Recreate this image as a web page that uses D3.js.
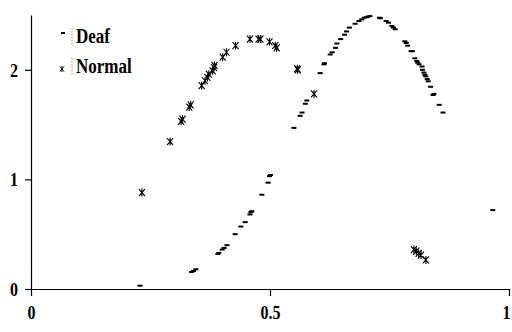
<!doctype html>
<html>
<head>
<script src="https://cdn.jsdelivr.net/npm/d3@7/dist/d3.min.js"></script>
<style>
  body { margin: 0; background: #fff; }
  svg { display: block; }
  text { font-family: "Liberation Serif", "Times New Roman", serif; font-weight: bold; }
</style>
</head>
<body>
<svg width="512" height="332"></svg>
<script>
// Deaf series [x, y]
var deafX = [0.228, 0.336, 0.340, 0.345, 0.391, 0.393, 0.400, 0.404, 0.410, 0.427, 0.439, 0.448, 0.458, 0.460, 0.462,
  0.483, 0.496, 0.499, 0.501, 0.550, 0.563, 0.567, 0.574, 0.577, 0.605, 0.613, 0.614, 0.626, 0.630, 0.637,
  0.640, 0.648, 0.656, 0.660, 0.666, 0.678, 0.686, 0.692, 0.697, 0.702, 0.705, 0.709, 0.729, 0.731, 0.743,
  0.748, 0.755, 0.758, 0.762, 0.782, 0.785, 0.788, 0.795, 0.798, 0.803, 0.807, 0.809, 0.812, 0.818, 0.819,
  0.822, 0.824, 0.826, 0.829, 0.831, 0.836, 0.841, 0.843, 0.854, 0.862, 0.966];
var deafY = [0.03, 0.155, 0.165, 0.18, 0.32, 0.33, 0.36, 0.375, 0.40, 0.50, 0.57, 0.61, 0.68, 0.70, 0.71,
  0.86, 0.97, 1.03, 1.04, 1.47, 1.58, 1.61, 1.69, 1.72, 1.97, 2.05, 2.06, 2.14, 2.16, 2.20,
  2.24, 2.28, 2.32, 2.35, 2.385, 2.42, 2.445, 2.46, 2.475, 2.48, 2.485, 2.49, 2.475, 2.47, 2.445,
  2.43, 2.40, 2.385, 2.37, 2.26, 2.245, 2.22, 2.17, 2.17, 2.105, 2.08, 2.065, 2.05, 2.03, 2.00,
  1.975, 1.955, 1.94, 1.915, 1.895, 1.845, 1.77, 1.78, 1.68, 1.61, 0.72];

// Normal series [x, y]
var normX = [0.232, 0.291, 0.314, 0.317, 0.331, 0.334, 0.357, 0.364, 0.369, 0.372, 0.380, 0.383, 0.384, 0.401, 0.409,
  0.428, 0.458, 0.476, 0.480, 0.499, 0.511, 0.514, 0.557, 0.558, 0.592, 0.801, 0.806, 0.811, 0.816, 0.826];
var normY = [0.88, 1.345, 1.53, 1.55, 1.66, 1.68, 1.855, 1.90, 1.93, 1.96, 1.99, 2.02, 2.04, 2.115, 2.16,
  2.22, 2.28, 2.28, 2.28, 2.255, 2.22, 2.20, 2.01, 2.00, 1.78, 0.36, 0.345, 0.325, 0.31, 0.265];

var xTicks = [0, 0.5, 1];
var yTicks = [0, 1, 2];
var seriesNames = ["Deaf", "Normal"];

var svg = d3.select("svg");
var x = d3.scaleLinear().domain([0, 1]).range([31, 509]);
var y = d3.scaleLinear().domain([0, 2.5]).range([289, 15]);

var xAxis = d3.axisBottom(x).tickValues(xTicks).tickFormat(d3.format("")).tickSize(7).tickSizeOuter(0);
var yAxis = d3.axisLeft(y).tickValues(yTicks).tickFormat(d3.format("d")).tickSize(6).tickSizeOuter(0).tickPadding(7);

var gx = svg.append("g").attr("transform", "translate(0,289)").call(xAxis);
var gy = svg.append("g").attr("transform", "translate(31,0)").call(yAxis);
[gx, gy].forEach(function(g) {
  g.selectAll("path, line").attr("stroke", "#000").attr("stroke-width", 1.2);
  g.selectAll("text").attr("fill", "#000").style("font-size", "16px")
    .style("font-family", "'Liberation Serif', serif").style("font-weight", "bold")
    .attr("transform", "scale(1,1.24)");
});
// condensed-looking labels: y is scaled, so pull it back
gx.selectAll("text").attr("y", 13);
gx.selectAll("text").filter(d => d === 1).attr("dx", -3);

var star = "M-3,-3.5L3,3.5M3,-3.5L-3,3.5M0,-4L0,4";

// Deaf dashes
svg.append("g").selectAll("rect")
  .data(deafX.map(function(d, i) { return [d, deafY[i]]; }))
  .enter().append("rect")
  .attr("x", d => x(d[0]) - 2.5)
  .attr("y", d => y(d[1]) - 1)
  .attr("width", 5)
  .attr("height", 2)
  .attr("fill", "#000");

// Normal stars
svg.append("g").selectAll("path")
  .data(normX.map(function(d, i) { return [d, normY[i]]; }))
  .enter().append("path")
  .attr("d", star)
  .attr("transform", d => "translate(" + x(d[0]) + "," + y(d[1]) + ")")
  .attr("fill", "none")
  .attr("stroke", "#000")
  .attr("stroke-width", 1.1);

// legend
var lg = svg.append("g");
lg.append("rect").attr("x", 61).attr("y", 32).attr("width", 4).attr("height", 2).attr("fill", "#000");
lg.append("path").attr("d", "M-2,-2.5L2,2.5M2,-2.5L-2,2.5M0,-3L0,3")
  .attr("transform", "translate(62,69)").attr("fill", "none").attr("stroke", "#000").attr("stroke-width", 1);
[[28, 45], [58, 75]].forEach(function(r) {
  lg.append("line").attr("x1", 72).attr("x2", 72).attr("y1", r[0]).attr("y2", r[1])
    .attr("stroke", "#777").attr("stroke-width", 0.8).attr("stroke-dasharray", "1.5,1.5");
});
lg.selectAll("text").data(seriesNames).enter().append("text")
  .attr("transform", (d, i) => "translate(76," + (43 + i * 30) + ") scale(1,1.24)")
  .style("font-size", "17px")
  .attr("fill", "#000")
  .text(d => d);
</script>
</body>
</html>
